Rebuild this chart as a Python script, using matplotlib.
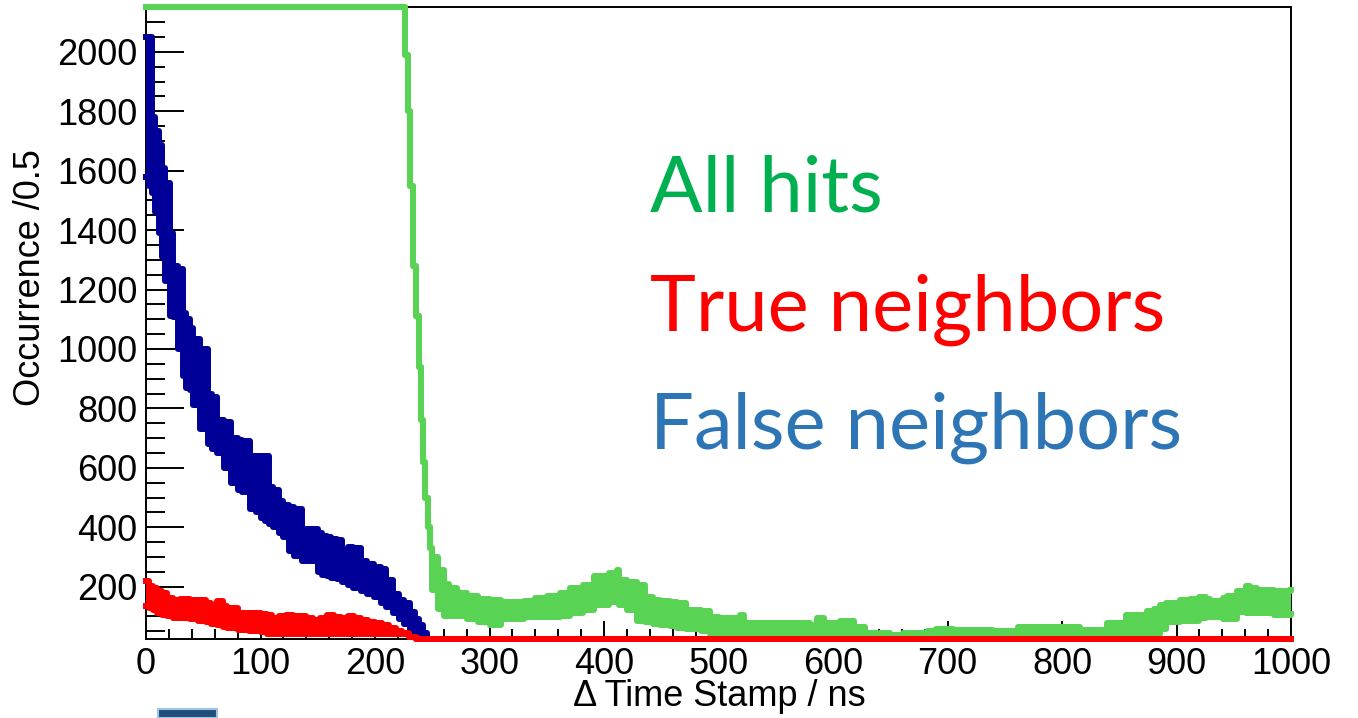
import numpy as np
import matplotlib
matplotlib.use("Agg")
import matplotlib.pyplot as plt
from matplotlib.patches import Rectangle
from matplotlib.ticker import MultipleLocator

plt.rcParams['font.family'] = ['Liberation Sans', 'DejaVu Sans']

# envelopes (lower / upper edge of the noisy histogram band)
# All hits (green) - values above the frame are drawn at the frame top
green_x = [0, 226, 228.5, 231, 233.5, 235.5, 238, 240, 242, 244, 246, 248, 250, 255, 260,
           265, 272, 280, 290, 300, 310, 320, 330, 340, 350, 362, 370, 382, 391, 404, 411,
           413, 420, 429, 436, 443, 449, 458, 464, 472, 478, 485, 493, 500, 516, 519, 522,
           554, 580, 586, 592, 606, 618, 628, 650, 661, 682, 690, 705, 728, 740, 762, 781,
           816, 839, 856, 874, 880, 886, 891, 903, 912, 920, 926, 929, 941, 944, 953, 961,
           964, 970, 985, 1000]
green_hi = [2500, 1990, 1800, 1550, 1280, 1110, 940, 760, 620, 500, 400, 330, 300, 255, 210,
            195, 179, 168, 160, 155, 150, 148, 152, 162, 170, 179, 195, 206, 235, 246, 257,
            223, 215, 206, 167, 155, 151, 147, 145, 122, 120, 117, 98, 95, 89, 105, 78,
            78, 72, 94, 78, 83, 66, 44, 38, 44, 50, 57, 53, 55, 50, 64, 66,
            55, 78, 105, 117, 125, 139, 145, 156, 160, 167, 160, 151, 162, 170, 184, 201,
            195, 190, 185, 190]
green_lo = [2500, 1990, 1800, 1550, 1280, 1110, 940, 760, 620, 500, 400, 330, 190, 125, 103,
            103, 103, 91, 81, 71, 92, 92, 98, 98, 98, 103, 110, 120, 137, 148, 148,
            137, 120, 86, 80, 75, 70, 67, 62, 58, 57, 50, 41, 34, 15, 15, 15,
            15, 15, 15, 15, 15, 15, 15, 15, 15, 15, 15, 15, 15, 15, 15, 15,
            15, 15, 15, 15, 41, 58, 81, 84, 86, 95, 98, 98, 92, 92, 114, 111,
            111, 110, 105, 109]

# False neighbors (dark blue)
blue_x = [0, 3, 5, 8, 11, 14, 17, 21, 24, 28, 32, 35, 38, 41, 47, 54, 58, 62, 68, 74,
          80, 84, 91, 96, 100, 104, 107, 111, 116, 120, 125, 129, 136, 140, 145, 150, 154,
          158, 162, 167, 171, 176, 181, 188, 193, 199, 205, 210, 216, 221, 225, 231, 235,
          238, 242, 245]
blue_hi = [2050, 2050, 1780, 1735, 1685, 1610, 1560, 1390, 1280, 1270, 1120, 1100, 1070,
           1035, 1000, 850, 840, 760, 755, 700, 695, 690, 640, 640, 640, 640, 535, 525,
           490, 475, 468, 460, 390, 395, 395, 380, 370, 368, 360, 358, 303, 335, 330, 285,
           275, 265, 260, 222, 175, 155, 145, 115, 90, 70, 45, 20]
blue_lo = [1580, 1550, 1525, 1460, 1390, 1310, 1230, 1110, 1108, 1000, 910, 870, 861, 810,
           732, 680, 665, 650, 600, 550, 525, 520, 462, 450, 430, 420, 410, 401, 380, 367,
           320, 305, 288, 288, 288, 250, 240, 235, 230, 227, 215, 205, 195, 185, 175, 165,
           145, 131, 110, 90, 75, 55, 40, 35, 30, 20]

# True neighbors (red)
red_x = [0, 3, 6, 10, 14, 18, 24, 30, 38, 45, 52, 57, 62, 67, 71, 80, 90, 100, 106, 110,
         116, 122, 128, 134, 140, 146, 152, 158, 164, 170, 176, 182, 188, 194, 200, 206,
         212, 218, 224, 230, 236, 1000]
red_hi = [218, 202, 195, 185, 179, 162, 156, 160, 156, 156, 145, 140, 151, 135, 128, 111,
          111, 108, 105, 94, 100, 105, 102, 100, 95, 89, 95, 105, 98, 94, 100, 94, 89, 82,
          78, 70, 61, 52, 44, 30, 14, 0]
red_lo = [135, 128, 120, 110, 105, 102, 96, 94, 90, 86, 82, 75, 70, 65, 60, 55, 50, 47, 41,
          41, 41, 41, 41, 41, 41, 41, 41, 41, 41, 41, 41, 41, 41, 41, 41, 41, 41, 41, 41,
          30, 14, 0]

legend_labels = ["All hits", "True neighbors", "False neighbors"]
legend_colors = ["#00B050", "#FF0000", "#2E75B6"]

ymin, ymax = 24, 2151

fig = plt.figure(figsize=(13.58, 7.18), dpi=100)
ax = fig.add_axes([146/1358, 1 - 639/718, (1291 - 146)/1358, (639 - 7)/718])


def band(x, lo, hi, color):
    # ROOT draws overflow / underflow on the frame, so clip for display
    lo = np.clip(lo, ymin, ymax)
    hi = np.clip(hi, ymin, ymax)
    ax.fill_between(x, lo, hi, step='post', color=color, lw=0, clip_on=False, zorder=3)
    ax.step(x, hi, where='post', color=color, lw=4.3, clip_on=False, zorder=3)
    ax.step(x, lo, where='post', color=color, lw=4.3, clip_on=False, zorder=3)


band(green_x, green_lo, green_hi, '#59d354')
band(blue_x, blue_lo, blue_hi, '#000099')
band(red_x, red_lo, red_hi, '#ff0000')

ax.set_xlim(0, 1000)
ax.set_ylim(ymin, ymax)
ax.xaxis.set_major_locator(MultipleLocator(100))
ax.xaxis.set_minor_locator(MultipleLocator(20))
ax.yaxis.set_major_locator(MultipleLocator(200))
ax.yaxis.set_minor_locator(MultipleLocator(50))
ax.tick_params(axis='both', which='both', direction='in', width=1.4, labelsize=26,
               top=False, right=False)
ax.tick_params(axis='y', which='major', length=27, pad=6)
ax.tick_params(axis='y', which='minor', length=14)
ax.tick_params(axis='x', which='major', length=13, pad=6)
ax.tick_params(axis='x', which='minor', length=7)
for s in ax.spines.values():
    s.set_linewidth(1.4)

fig.text(30/1358, 1 - 278/718, "Occurrence /0.5", rotation=90, ha='center', va='center',
         fontsize=26)
fig.text(719/1358, 1 - 697/718, "\u0394 Time Stamp / ns", ha='center', va='center',
         fontsize=26)

ys = [212, 331, 449]
for lab, col, yy in zip(legend_labels, legend_colors, ys):
    fig.text(650/1358, 1 - yy/718, lab, color=col, fontsize=56, family=['Lato', 'DejaVu Sans'],
             ha='left', va='baseline')

fig.patches.append(Rectangle((158/1358, 0), 59/1358, 9/718, transform=fig.transFigure,
                             fc='#1f4e79', ec='#9dc3e6', lw=1.5))

fig.savefig("out.png", dpi=100)
